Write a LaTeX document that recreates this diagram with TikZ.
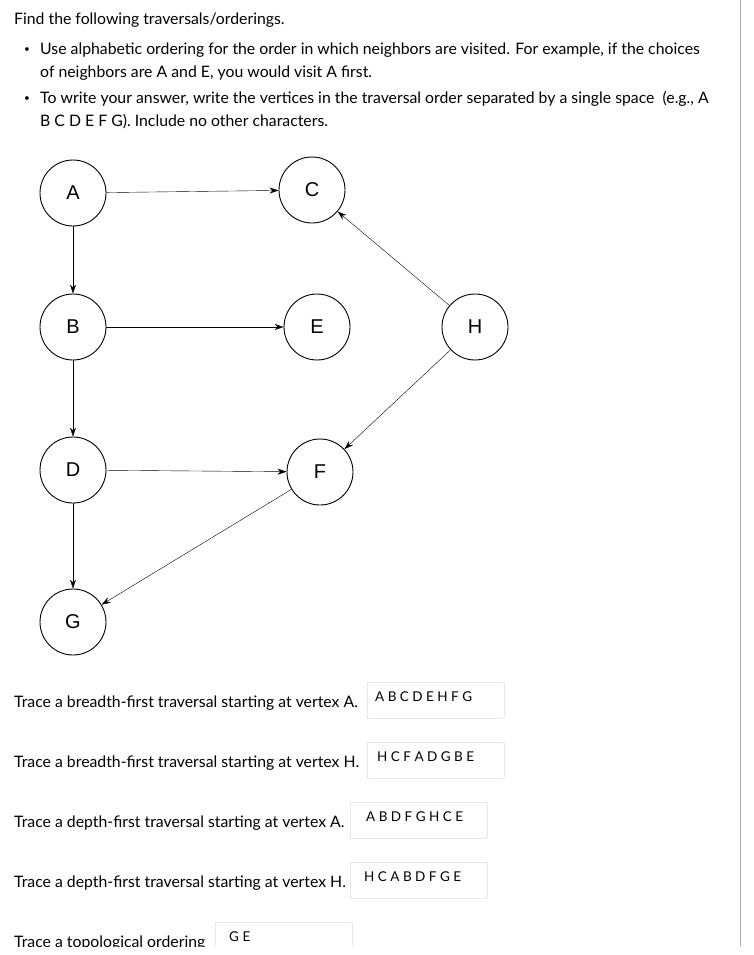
\documentclass[tikz,border=0pt]{standalone}
\usepackage{fontspec}
\setmainfont{Lato}
\newfontfamily\vfont{Liberation Sans}
\usetikzlibrary{arrows.meta}
\begin{document}
\begin{tikzpicture}[x=1pt,y=-1pt,
    vertex/.style={draw,circle,line width=0.9pt,minimum size=66pt,inner sep=0pt,font=\vfont\fontsize{20}{20}\selectfont},
    edge/.style={-{Stealth[length=9pt,width=6pt]}},
    txt/.style={anchor=west,inner sep=0pt,font=\fontsize{15.8}{18}\selectfont},
    ansbox/.style={draw=black!25,rounded corners=1pt,anchor=north west,minimum width=137pt,minimum height=36pt,inner sep=0pt},
    ans/.style={anchor=north west,inner sep=0pt,font=\fontsize{13.5}{15}\selectfont}]
\useasboundingbox (0,0) rectangle (754,955);
\begin{scope}
\clip (0,0) rectangle (754,946);
\draw[black!35] (740,0) -- (740,946);
% instructions
\node[txt] (t0) at (14,20) {Find the following traversals/orderings.};
\node[inner sep=0pt] (b1) at (27,50) {•};
\node[txt] (t1) at (40,50) {Use alphabetic ordering for the order in which neighbors are visited. For example, if the choices};
\node[txt] (t2) at (40,73) {of neighbors are A and E, you would visit A first.};
\node[inner sep=0pt] (b2) at (27,99) {•};
\node[txt] (t3) at (40,99) {To write your answer, write the vertices in the traversal order separated by a single space\ \ (e.g., A};
\node[txt] (t4) at (40,122) {B C D E F G). Include no other characters.};
% graph
\node[vertex] (A) at (73,193) {A};
\node[vertex] (C) at (312,190) {C};
\node[vertex] (B) at (73,327) {B};
\node[vertex] (E) at (317,327) {E};
\node[vertex] (H) at (475,327) {H};
\node[vertex] (D) at (73,470) {D};
\node[vertex] (F) at (320,472) {F};
\node[vertex] (G) at (73,622) {G};
\draw[edge] (A) -- (C);
\draw[edge] (A) -- (B);
\draw[edge] (B) -- (E);
\draw[edge] (B) -- (D);
\draw[edge] (D) -- (F);
\draw[edge] (D) -- (G);
\draw[edge] (F) -- (G);
\draw[edge] (H) -- (C);
\draw[edge] (H) -- (F);
% questions
\node[txt] (q1) at (14,703) {Trace a breadth-first traversal starting at vertex A.};
\node[ansbox] (a1) at (367,682) {};
\node[ans] at (375,692) {A B C D E H F G};
\node[txt] (q2) at (14,763) {Trace a breadth-first traversal starting at vertex H.};
\node[ansbox] (a2) at (367,742) {};
\node[ans] at (377,752) {H C F A D G B E};
\node[txt] (q3) at (14,823) {Trace a depth-first traversal starting at vertex A.};
\node[ansbox] (a3) at (350,802) {};
\node[ans] at (366,812) {A B D F G H C E};
\node[txt] (q4) at (14,883) {Trace a depth-first traversal starting at vertex H.};
\node[ansbox] (a4) at (350,862) {};
\node[ans] at (364,872) {H C A B D F G E};
\node[txt] (q5) at (14,943) {Trace a topological ordering};
\node[ansbox] (a5) at (215,922) {};
\node[ans] at (229,932) {G E};
\end{scope}
\end{tikzpicture}
\end{document}
